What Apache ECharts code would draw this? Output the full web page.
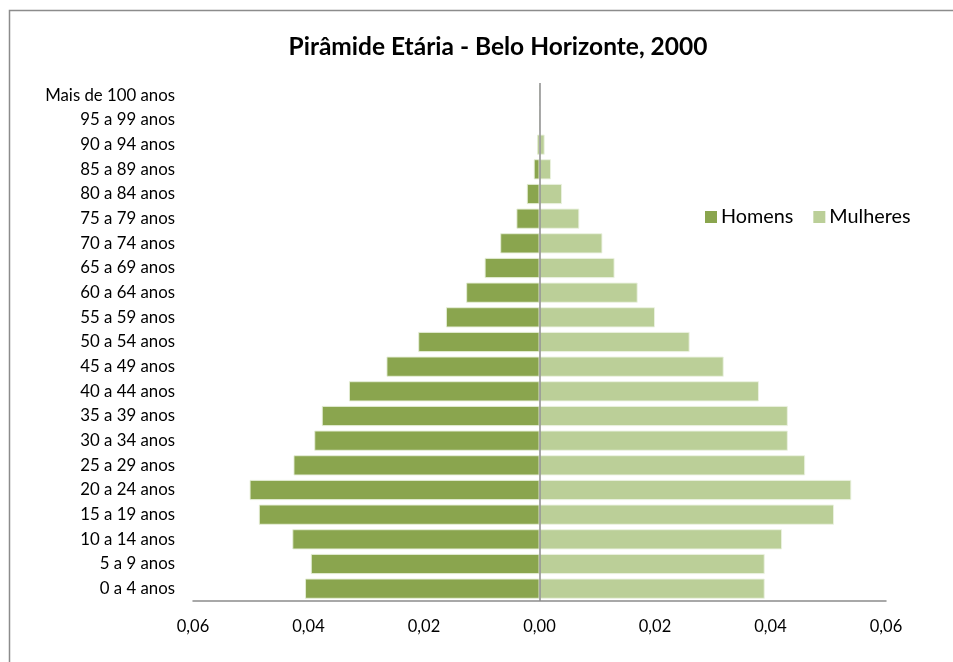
<!DOCTYPE html>
<html>
<head>
<meta charset="utf-8">
<title>Pirâmide Etária - Belo Horizonte, 2000</title>
<script src="https://cdn.jsdelivr.net/npm/echarts@6/dist/echarts.min.js"></script>
<style>
  html, body { margin: 0; padding: 0; background: #fff; }
  #chart { width: 953px; height: 662px; }
</style>
</head>
<body>
<div id="chart"></div>
<script>
// Age groups, youngest first (bottom of the pyramid)
const faixas = [
  '0 a 4 anos', '5 a 9 anos', '10 a 14 anos', '15 a 19 anos', '20 a 24 anos',
  '25 a 29 anos', '30 a 34 anos', '35 a 39 anos', '40 a 44 anos', '45 a 49 anos',
  '50 a 54 anos', '55 a 59 anos', '60 a 64 anos', '65 a 69 anos', '70 a 74 anos',
  '75 a 79 anos', '80 a 84 anos', '85 a 89 anos', '90 a 94 anos', '95 a 99 anos',
  'Mais de 100 anos'
];

// Share of total population (men drawn to the left as negatives)
const homens = [
  0.0406, 0.0396, 0.0428, 0.0486, 0.0502,
  0.0426, 0.0390, 0.0377, 0.0330, 0.0265,
  0.0210, 0.0162, 0.0127, 0.0095, 0.0068,
  0.0040, 0.0022, 0.0010, 0.0004, 0, 0
];
const mulheres = [
  0.0390, 0.0390, 0.0420, 0.0510, 0.0540,
  0.0460, 0.0430, 0.0430, 0.0380, 0.0319,
  0.0260, 0.0200, 0.0170, 0.0130, 0.0109,
  0.0069, 0.0039, 0.0020, 0.0009, 0, 0
];

const ticksX = { min: -0.06, max: 0.06, interval: 0.02 };

const FONT = 'Lato, "Open Sans", sans-serif';

const chart = echarts.init(document.getElementById('chart'), null, { renderer: 'canvas' });

chart.setOption({
  animation: false,
  backgroundColor: '#ffffff',
  textStyle: { fontFamily: FONT },
  graphic: [{
    type: 'rect',
    silent: true,
    shape: { x: 9.5, y: 10.5, width: 1000, height: 700 },
    style: { fill: 'none', stroke: '#8c8c8c', lineWidth: 1.5 }
  }],
  title: {
    text: 'Pirâmide Etária - Belo Horizonte, 2000',
    left: 498,
    textAlign: 'center',
    top: 35,
    padding: 0,
    textStyle: { fontFamily: FONT, fontSize: 24.5, fontWeight: 'bold', color: '#000' }
  },
  legend: {
    data: ['Homens', 'Mulheres'],
    left: 705,
    top: 207,
    padding: 0,
    itemWidth: 12,
    itemHeight: 12,
    itemGap: 20,
    icon: 'rect',
    itemStyle: { borderWidth: 0 },
    textStyle: { fontFamily: FONT, fontSize: 19.8, color: '#000', padding: [0, 0, 0, -1] }
  },
  grid: { left: 193, right: 67, top: 83, bottom: 61, containLabel: false },
  xAxis: {
    type: 'value',
    min: ticksX.min,
    max: ticksX.max,
    interval: ticksX.interval,
    splitLine: { show: false },
    axisTick: { show: false },
    axisLine: { show: true, onZero: false, lineStyle: { color: '#8c8c8c', width: 1.5 } },
    axisLabel: {
      fontFamily: FONT, fontSize: 16.5, color: '#000', margin: 17,
      formatter: v => Math.abs(v).toFixed(2).replace('.', ',')
    }
  },
  yAxis: {
    type: 'category',
    data: faixas,
    axisLine: { show: false },
    axisTick: { show: false },
    axisLabel: { fontFamily: FONT, fontSize: 16.8, color: '#000', margin: 18 }
  },
  series: [
    {
      name: 'Homens',
      type: 'bar',
      stack: 'piramide',
      barCategoryGap: '18%',
      data: homens.map(v => -v),
      itemStyle: { color: '#8aa54e', borderColor: 'rgba(230,238,215,0.9)', borderWidth: 1 },
      markLine: {
        silent: true,
        symbol: 'none',
        label: { show: false },
        lineStyle: { color: '#8c8c8c', type: 'solid', width: 1.5 },
        data: [{ xAxis: 0 }]
      }
    },
    {
      name: 'Mulheres',
      type: 'bar',
      stack: 'piramide',
      barCategoryGap: '18%',
      data: mulheres,
      itemStyle: { color: '#bbcf98', borderColor: 'rgba(235,242,225,0.9)', borderWidth: 1 }
    }
  ]
});
</script>
</body>
</html>
